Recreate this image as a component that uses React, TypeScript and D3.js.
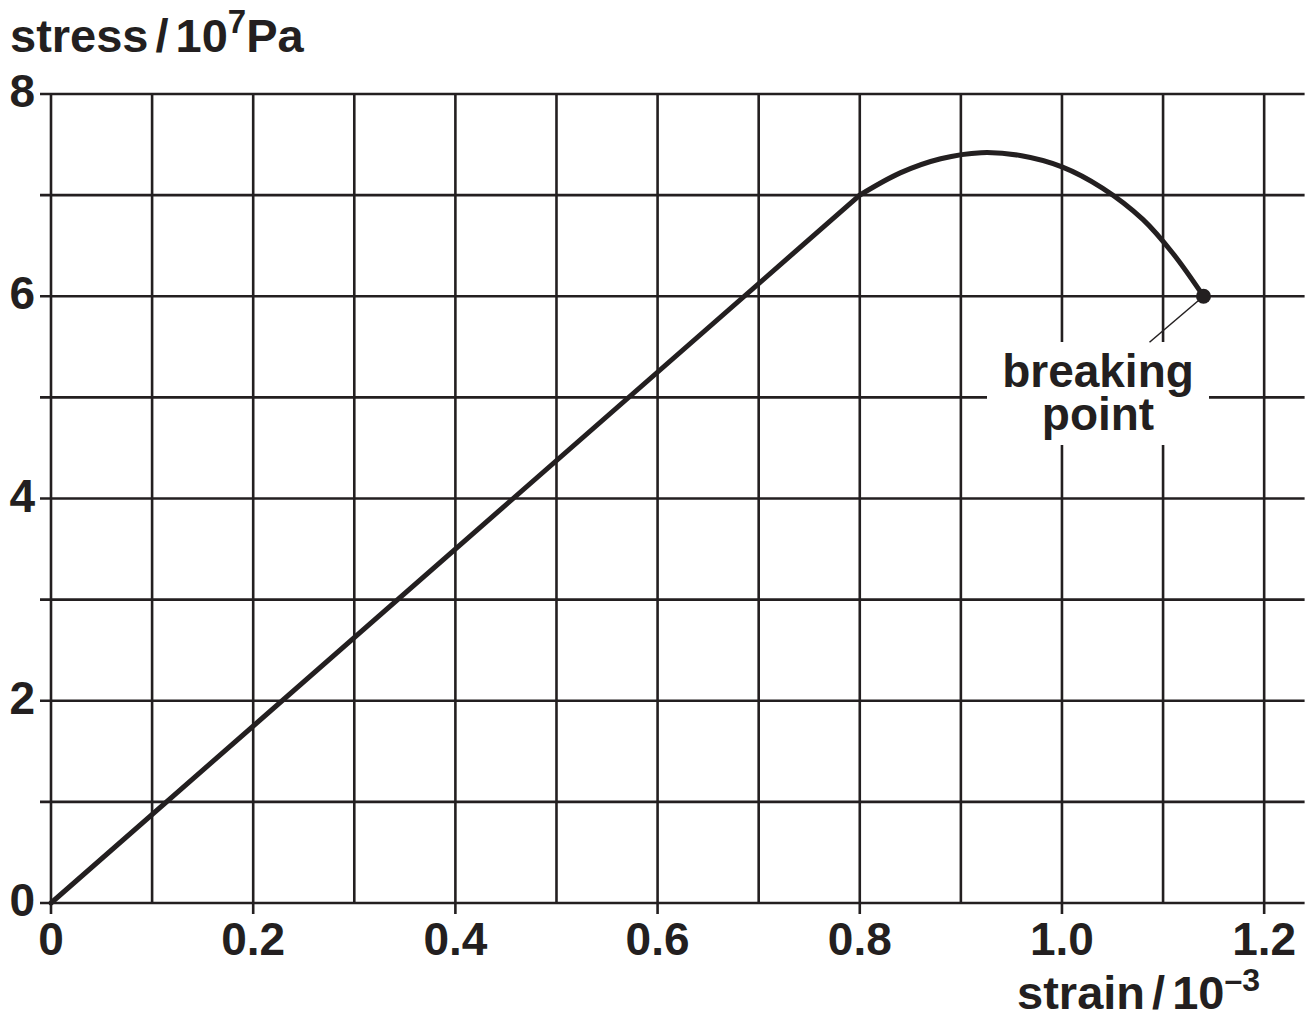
import React from 'react';
import * as d3 from 'd3';

// strain (10^-3) vs stress (10^7 Pa)
const linearPart: [number, number][] = [
  [0, 0],
  [0.8, 7.0],
];

const plasticPart: [number, number][] = [
  [0.8, 7.0],
  [0.84, 7.22],
  [0.88, 7.36],
  [0.92, 7.42],
  [0.96, 7.39],
  [1.0, 7.28],
  [1.04, 7.07],
  [1.08, 6.76],
  [1.11, 6.42],
  [1.14, 6.0],
];

const breakingPoint: [number, number] = [1.14, 6.0];

const xTicks = [0, 0.2, 0.4, 0.6, 0.8, 1.0, 1.2];
const xTickLabels = ['0', '0.2', '0.4', '0.6', '0.8', '1.0', '1.2'];
const yTicks = [0, 2, 4, 6, 8];
const yTickLabels = ['0', '2', '4', '6', '8'];
const xGrid = d3.range(0, 13).map((i) => i / 10);
const yGrid = d3.range(0, 9);

const ink = '#231f20';
const font = '"Liberation Sans", Arial, Helvetica, sans-serif';

const App = () => {
  const width = 1311;
  const height = 1017;

  const x = d3.scaleLinear().domain([0, 1.24]).range([51, 1304.6]);
  const y = d3.scaleLinear().domain([0, 8]).range([903, 94]);

  const straight = d3
    .line<[number, number]>()
    .x((d) => x(d[0]))
    .y((d) => y(d[1]));

  const curved = d3
    .line<[number, number]>()
    .x((d) => x(d[0]))
    .y((d) => y(d[1]))
    .curve(d3.curveCatmullRom.alpha(0.5));

  const bx = x(breakingPoint[0]);
  const by = y(breakingPoint[1]);

  return (
    <svg
      width={width}
      height={height}
      style={{ position: 'absolute', left: 0, top: 0, background: '#fff' }}
      fontFamily={font}
      fontWeight="bold"
      fill={ink}
    >
      {/* grid */}
      <g stroke={ink} strokeWidth={2.6}>
        {xGrid.map((v) => (
          <line
            key={'vx' + v}
            x1={x(v)}
            x2={x(v)}
            y1={y(8)}
            y2={xTicks.some((t) => Math.abs(t - v) < 1e-9) ? y(0) + 11 : y(0)}
          />
        ))}
        {yGrid.map((v) => (
          <line key={'hy' + v} x1={x(0) - 11} x2={x(1.24)} y1={y(v)} y2={y(v)} />
        ))}
      </g>

      {/* white box behind the label */}
      <rect x={987} y={342} width={222} height={103} fill="#fff" />

      {/* curve */}
      <g fill="none" stroke={ink} strokeWidth={5} strokeLinejoin="round" strokeLinecap="round">
        <path d={straight(linearPart) || ''} />
        <path d={curved(plasticPart) || ''} />
      </g>
      <line x1={bx} y1={by} x2={bx - 54} y2={by + 46} stroke={ink} strokeWidth={1.5} />
      <circle cx={bx} cy={by} r={7.5} fill={ink} />

      <text x={1098} y={387} fontSize={46} textAnchor="middle">
        breaking
      </text>
      <text x={1098} y={430} fontSize={46} textAnchor="middle">
        point
      </text>

      {/* tick labels */}
      {xTicks.map((v, i) => (
        <text key={'xt' + v} x={x(v)} y={y(0) + 52} fontSize={46} textAnchor="middle">
          {xTickLabels[i]}
        </text>
      ))}
      {yTicks.map((v, i) => (
        <text key={'yt' + v} x={35} y={y(v) + 13} fontSize={46} textAnchor="end">
          {yTickLabels[i]}
        </text>
      ))}

      {/* axis titles */}
      <text x={10} y={52} fontSize={47}>
        stress
        <tspan dx={7}>/</tspan>
        <tspan dx={7}>10</tspan>
        <tspan dy={-19} fontSize={33}>7</tspan>
        <tspan dy={19}>Pa</tspan>
      </text>
      <text x={1260} y={1009} fontSize={47} textAnchor="end">
        strain
        <tspan dx={7}>/</tspan>
        <tspan dx={7}>10</tspan>
        <tspan dy={-18} fontSize={32}>–3</tspan>
      </text>
    </svg>
  );
};

export default App;
